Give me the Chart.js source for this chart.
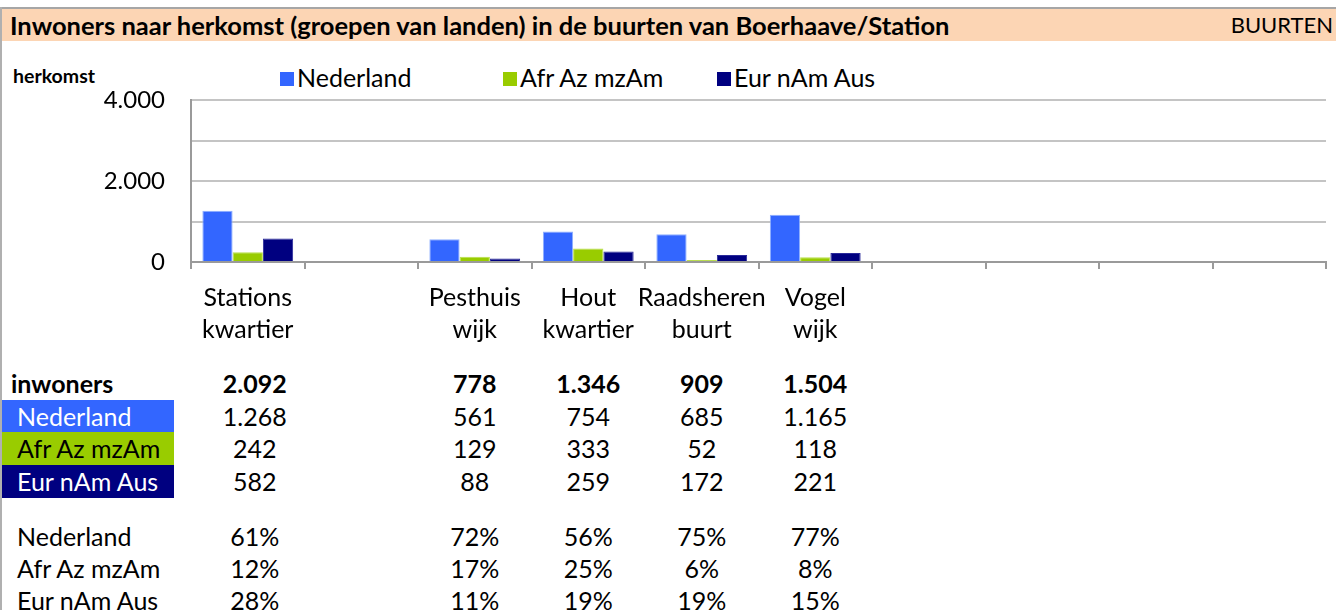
<!DOCTYPE html>
<html>
<head>
<meta charset="utf-8">
<script src="https://cdn.jsdelivr.net/npm/chart.js"></script>
<style>
body { margin: 0; background: #fff; }
#wrap { position: relative; width: 1336px; height: 610px; overflow: hidden; font-family: Lato, sans-serif; color: #000; background: #fff; }
.topline { position: absolute; left: 0; top: 7px; width: 1336px; height: 2px; background: #a6a6a6; }
.leftline { position: absolute; left: 0; top: 7px; width: 2px; height: 603px; background: #b0b0b0; }
.titlebar { position: absolute; left: 0; top: 9px; width: 1336px; height: 32px; background: #fcd5b4; }
.title { position: absolute; left: 10px; top: 0; line-height: 32px; font-size: 25.5px; font-weight: bold; white-space: nowrap; }
.buurten { position: absolute; right: 3px; top: 0; line-height: 32px; font-size: 22px; }
.herkomst { position: absolute; left: 13px; top: 64px; font-size: 19.5px; font-weight: bold; }
.lg { position: absolute; top: 64px; font-size: 25px; line-height: 26px; white-space: nowrap; }
.lg i { display: inline-block; width: 14px; height: 14px; margin-right: 3px; vertical-align: 1px; }
#chart { position: absolute; left: 0; top: 0; }
.cell { position: absolute; font-size: 25px; line-height: 32px; height: 32px; white-space: nowrap; }
.lab { position: absolute; left: 2px; width: 172px; height: 33px; line-height: 33px; font-size: 25px; padding-left: 15px; box-sizing: border-box; white-space: nowrap; }
.val { transform: translateX(-50%); }
.b { font-weight: bold; }
</style>
</head>
<body>
<div id="wrap">
  <div class="topline"></div>
  <div class="titlebar">
    <span class="title">Inwoners naar herkomst (groepen van landen) in de buurten van Boerhaave/Station</span>
    <span class="buurten">BUURTEN</span>
  </div>
  <div class="herkomst">herkomst</div>
  <div id="legend"></div>
  <canvas id="chart" width="1336" height="345"></canvas>
  <div id="table"></div>
  <div class="leftline"></div>
</div>
<script>
// data
const categories = [['Stations', 'kwartier'], '', ['Pesthuis', 'wijk'], ['Hout', 'kwartier'], ['Raadsheren', 'buurt'], ['Vogel', 'wijk'], '', '', '', ''];
const seriesNames = ['Nederland', 'Afr Az mzAm', 'Eur nAm Aus'];
const seriesColors = ['#3366ff', '#99cc00', '#000080'];
const nederland = [1268, null, 561, 754, 685, 1165, null, null, null, null];
const afrAzMzAm = [242, null, 129, 333, 52, 118, null, null, null, null];
const eurNamAus = [582, null, 88, 259, 172, 221, null, null, null, null];
const inwoners = [2092, null, 778, 1346, 909, 1504, null, null, null, null];
const pctNederland = [61, null, 72, 56, 75, 77, null, null, null, null];
const pctAfrAzMzAm = [12, null, 17, 25, 6, 8, null, null, null, null];
const pctEurNamAus = [28, null, 11, 19, 19, 15, null, null, null, null];
const yLabelTicks = [0, 2000, 4000];

function fmt(n) {
    return String(n).replace(/\B(?=(\d{3})+(?!\d))/g, '.');
}

// legend
const legendX = [280, 503, 717];
const legendEl = document.getElementById('legend');
seriesNames.forEach((name, i) => {
    const d = document.createElement('div');
    d.className = 'lg';
    d.style.left = legendX[i] + 'px';
    d.innerHTML = '<i style="background:' + seriesColors[i] + '"></i>' + name;
    legendEl.appendChild(d);
});

const seriesData = [nederland, afrAzMzAm, eurNamAus];

const chart = new Chart(document.getElementById('chart'), {
    type: 'bar',
    data: {
        labels: categories,
        datasets: seriesNames.map((name, i) => ({
            label: name,
            data: seriesData[i],
            backgroundColor: seriesColors[i],
            borderColor: i === 0 ? '#8fb0ff' : (i === 1 ? '#b8e04a' : '#2a2a9a'),
            borderWidth: 1,
            categoryPercentage: 0.8,
            barPercentage: 1.0
        }))
    },
    options: {
        responsive: false,
        animation: false,
        layout: { padding: { left: 0, right: 10, top: 100, bottom: 0 } },
        plugins: {
            legend: { display: false },
            tooltip: { enabled: false }
        },
        scales: {
            x: {
                offset: true,
                grid: { offset: true, drawOnChartArea: false, drawTicks: true, tickLength: 7, color: '#9a9a9a', lineWidth: 2 },
                border: { color: '#9a9a9a', width: 2 },
                ticks: {
                    color: '#000',
                    padding: 13,
                    maxRotation: 0,
                    autoSkip: false,
                    font: { family: 'Lato', size: 25, lineHeight: 1.28 }
                },
                afterFit: (scale) => { scale.height = 83; }
            },
            y: {
                min: 0,
                max: 4000,
                grid: { color: '#c4c4c4', lineWidth: 2, drawTicks: false },
                border: { color: '#9a9a9a', width: 2 },
                ticks: {
                    stepSize: 1000,
                    padding: 26,
                    color: '#000',
                    font: { family: 'Lato', size: 24 },
                    callback: (v) => yLabelTicks.includes(v) ? fmt(v) : ''
                },
                afterFit: (scale) => { scale.width = 191; }
            }
        }
    }
});

// table under the chart
const tableEl = document.getElementById('table');
const xs = chart.scales.x;
const colShift = [7, 0, 0, 0, 0, 0, 0, 0, 0, 0];

function addCell(text, x, y, bold) {
    const d = document.createElement('div');
    d.className = 'cell val' + (bold ? ' b' : '');
    d.style.left = x + 'px';
    d.style.top = (y - 16) + 'px';
    d.textContent = text;
    tableEl.appendChild(d);
}

function addRow(values, y, bold, suffix) {
    values.forEach((v, i) => {
        if (v === null) return;
        const x = xs.getPixelForValue(i) + colShift[i];
        addCell(suffix ? v + suffix : fmt(v), x, y, bold);
    });
}

function addLabel(text, y, bg, fg, bold, left) {
    const d = document.createElement('div');
    d.className = 'lab' + (bold ? ' b' : '');
    d.style.top = (y - 16) + 'px';
    if (bg) d.style.background = bg;
    d.style.color = fg;
    if (left !== undefined) d.style.paddingLeft = left + 'px';
    d.textContent = text;
    tableEl.appendChild(d);
}

const rowY = [383, 416, 448, 481, 536, 568, 600];

addLabel('inwoners', rowY[0], null, '#000', true, 9);
addRow(inwoners, rowY[0], true);
addLabel(seriesNames[0], rowY[1], seriesColors[0], '#fff', false);
addRow(nederland, rowY[1], false);
addLabel(seriesNames[1], rowY[2], seriesColors[1], '#000', false);
addRow(afrAzMzAm, rowY[2], false);
addLabel(seriesNames[2], rowY[3], seriesColors[2], '#fff', false);
addRow(eurNamAus, rowY[3], false);

addLabel(seriesNames[0], rowY[4], null, '#000', false);
addRow(pctNederland, rowY[4], false, '%');
addLabel(seriesNames[1], rowY[5], null, '#000', false);
addRow(pctAfrAzMzAm, rowY[5], false, '%');
addLabel(seriesNames[2], rowY[6], null, '#000', false);
addRow(pctEurNamAus, rowY[6], false, '%');
</script>
</body>
</html>
